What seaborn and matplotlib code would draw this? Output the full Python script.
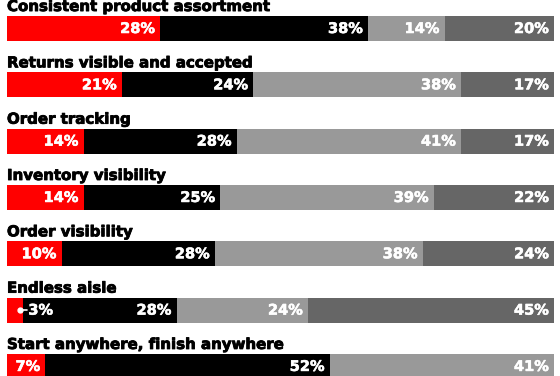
import numpy as np
import pandas as pd
import matplotlib
matplotlib.use("Agg")
import matplotlib.pyplot as plt
import matplotlib.patheffects as pe
import seaborn as sns

categories = [
    "Consistent product assortment",
    "Returns visible and accepted",
    "Order tracking",
    "Inventory visibility",
    "Order visibility",
    "Endless aisle",
    "Start anywhere, finish anywhere",
]
red_vals = [28, 21, 14, 14, 10, 3, 7]
black_vals = [38, 24, 28, 25, 28, 28, 52]
light_vals = [14, 38, 41, 39, 38, 24, 41]
dark_vals = [20, 17, 17, 22, 24, 45, 0]

colors = ["#ff0000", "#000000", "#999999", "#666666"]

sns.set_theme(style="white")
plt.rcParams["font.family"] = ["DejaVu Sans"]

df = pd.DataFrame({"cat": categories, "red": red_vals, "black": black_vals,
                   "light": light_vals, "dark": dark_vals})
segs = ["red", "black", "light", "dark"]
cum = df[segs].cumsum(axis=1)

fig = plt.figure(figsize=(5.6, 3.76), dpi=100)
ax = fig.add_axes([7 / 560, 0, 547 / 560, 1])

# stacked bars: draw the longest cumulative first
for seg, col in zip(segs[::-1], colors[::-1]):
    sns.barplot(x=cum[seg], y=df["cat"], color=col, orient="h",
                width=0.444, saturation=1, linewidth=0, edgecolor="none", ax=ax)

ax.set_xlim(0, 100)
ax.set_ylim(6.17, -0.506)
ax.axis("off")

heavy = [pe.withStroke(linewidth=0.6, foreground="black")]
heavy_w = [pe.withStroke(linewidth=0.4, foreground="white")]

for i, cat in enumerate(categories):
    ax.text(0, i - 0.39, cat, ha="left", va="center",
            fontsize=10.8, fontweight="bold", color="black", path_effects=heavy)
    for seg in segs:
        v = df.loc[i, seg]
        end = cum.loc[i, seg]
        if v == 0:
            continue
        if v < 5:
            ax.plot([v - 0.6, v + 0.6], [i, i], color="white", lw=1.2)
            ax.plot([v - 0.6], [i], "o", color="white", ms=3.5)
            ax.text(v + 0.9, i, f"{v}%", ha="left", va="center",
                    fontsize=10.5, fontweight="bold", color="white",
                    path_effects=heavy_w)
        else:
            ax.text(end - 0.9, i, f"{v}%", ha="right", va="center",
                    fontsize=10.5, fontweight="bold", color="white",
                    path_effects=heavy_w)

fig.savefig("out.png", dpi=100)
